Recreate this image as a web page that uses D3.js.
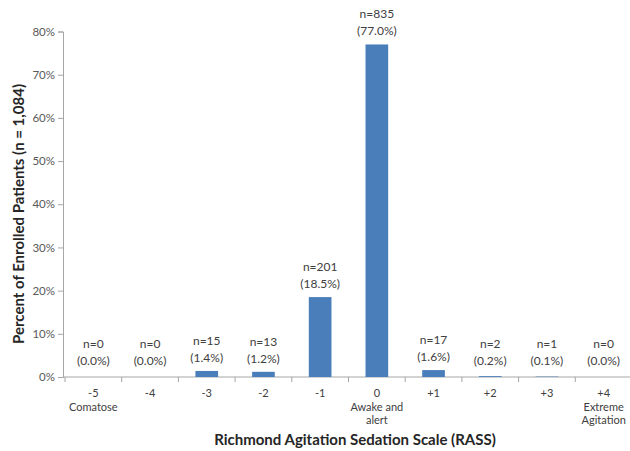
<!DOCTYPE html>
<html><head><meta charset="utf-8">
<script src="https://cdn.jsdelivr.net/npm/d3@7"></script>
<style>body{margin:0;background:#fff}svg{display:block}</style>
</head><body>
<svg id="c" width="630" height="451"></svg>
<script>
const categories = ["-5","-4","-3","-2","-1","0","+1","+2","+3","+4"];
const subLabels = [["Comatose"],[],[],[],[],["Awake and","alert"],[],[],[],["Extreme","Agitation"]];
const counts = [0,0,15,13,201,835,17,2,1,0];
const percents = [0.0,0.0,1.4,1.2,18.5,77.0,1.6,0.2,0.1,0.0];
const yTicks = [0,10,20,30,40,50,60,70,80];

(function(){
const svg = d3.select("#c");
const font = "Lato, 'Open Sans', sans-serif";
const mLeft = 63, mRight = 632, mTop = 31.5, mBottom = 377;
const x = d3.scaleBand().domain(categories).range([mLeft+2, mRight]).paddingInner(0.6).paddingOuter(0.3);
const xb = d3.scaleBand().domain(categories).range([mLeft+2, mRight]);
const y = d3.scaleLinear().domain([0,80]).range([mBottom, mTop]);

// y axis
const ya = svg.append("g").attr("transform",`translate(${mLeft},0)`)
  .call(d3.axisLeft(y).tickValues(yTicks).tickFormat(d=>d+"%").tickSizeOuter(0).tickSize(5).tickPadding(3));
ya.select(".domain").attr("stroke","#a6a6a6");
ya.selectAll(".tick line").attr("stroke","#a6a6a6");
ya.selectAll("text").attr("font-family",font).attr("font-size",11.5).attr("fill","#595959");

// x axis baseline
svg.append("line").attr("x1",mLeft).attr("x2",mRight).attr("y1",mBottom).attr("y2",mBottom).attr("stroke","#a6a6a6");
const bounds = categories.map(c=>xb(c)).concat([xb(categories[categories.length-1])+xb.bandwidth()]);
svg.selectAll(".xt").data(bounds).enter().append("line")
  .attr("x1",d=>d).attr("x2",d=>d).attr("y1",mBottom).attr("y2",mBottom+5).attr("stroke","#a6a6a6");

// bars
svg.selectAll(".bar").data(categories).enter().append("rect")
  .attr("x",c=>x(c)).attr("width",x.bandwidth())
  .attr("y",(c,i)=>y(percents[i])).attr("height",(c,i)=>mBottom-y(percents[i]))
  .attr("fill","#4a7ebb");

// value labels
const lbl = svg.append("g").attr("font-family",font).attr("font-size",12).attr("fill","#404040").attr("text-anchor","middle");
categories.forEach((c,i)=>{
  const cx = xb(c)+xb.bandwidth()/2;
  const ty = Math.min(y(percents[i]), mBottom-3);
  lbl.append("text").attr("x",cx).attr("y",ty-26).text("n="+counts[i]);
  lbl.append("text").attr("x",cx).attr("y",ty-9).text("("+percents[i].toFixed(1)+"%)");
});

// category labels
const cl = svg.append("g").attr("font-family",font).attr("font-size",11).attr("fill","#404040").attr("text-anchor","middle");
categories.forEach((c,i)=>{
  const cx = xb(c)+xb.bandwidth()/2;
  cl.append("text").attr("x",cx).attr("y",397).text(c);
  subLabels[i].forEach((s,j)=>cl.append("text").attr("x",cx).attr("y",410.5+j*13.5).text(s));
});

// axis titles
svg.append("text").attr("x",355).attr("y",445).attr("text-anchor","middle")
  .attr("font-family",font).attr("font-weight","bold").attr("font-size",15).attr("fill","#262626")
  .text("Richmond Agitation Sedation Scale (RASS)");
svg.append("text").attr("transform","translate(24,214) rotate(-90)").attr("text-anchor","middle")
  .attr("font-family",font).attr("font-weight","bold").attr("font-size",15).attr("fill","#262626")
  .text("Percent of Enrolled Patients (n = 1,084)");
})();
</script>
</body></html>
